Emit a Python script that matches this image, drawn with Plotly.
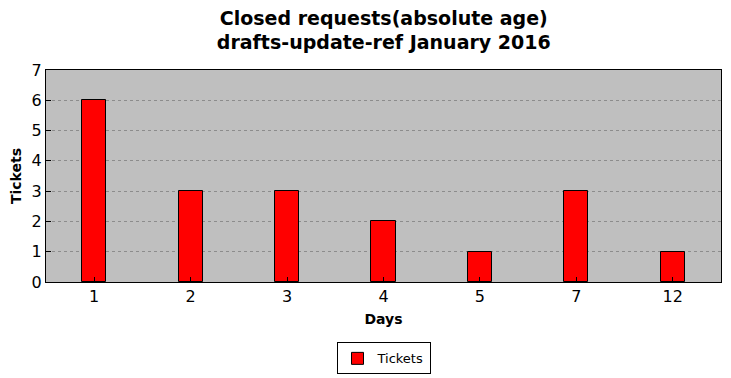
import plotly.graph_objects as go

days = ["1", "2", "3", "4", "5", "7", "12"]
tickets = [6, 3, 3, 2, 1, 3, 1]
y_ticks = [0, 1, 2, 3, 4, 5, 6, 7]

fig = go.Figure()
fig.add_trace(go.Bar(
    x=days, y=tickets, name="Tickets", width=0.25,
    marker=dict(color="#ff0000", line=dict(color="black", width=1)),
    showlegend=True,
))

fig.update_layout(
    width=731, height=378,
    margin=dict(l=46, r=10, t=70, b=96, autoexpand=False),
    paper_bgcolor="white",
    plot_bgcolor="#bfbfbf",
    font=dict(family="DejaVu Sans", color="black"),
    title=dict(
        text="<b>Closed requests(absolute age)<br>drafts-update-ref January 2016</b>",
        x=0.525, xanchor="center", y=0.935, yanchor="middle",
        font=dict(size=19),
    ),
    bargap=0,
    legend=dict(
        orientation="h", x=0.5, xanchor="center", y=-0.285, yanchor="top",
        bordercolor="black", borderwidth=1, font=dict(size=13),
    ),
)
fig.update_xaxes(
    type="category", range=[-0.5, 6.5], automargin=False,
    showline=True, linecolor="black", linewidth=1, mirror=True,
    ticks="inside", ticklen=5, tickcolor="black",
    showgrid=False,
    tickfont=dict(size=16),
    title=dict(text="<b>Days</b>", font=dict(size=14), standoff=8),
)
fig.update_yaxes(
    range=[0, 7], tickvals=y_ticks, automargin=False,
    showline=True, linecolor="black", linewidth=1, mirror=True,
    ticks="inside", ticklen=5, tickcolor="black",
    showgrid=True, gridcolor="#8c8c8c", griddash="dot", gridwidth=1,
    zeroline=False,
    tickfont=dict(size=16),
    title=dict(text="<b>Tickets</b>", font=dict(size=14), standoff=6),
)

fig.write_html(
    "out.html",
    config={"displayModeBar": False},
    post_script="document.body.style.margin='0';",
)
